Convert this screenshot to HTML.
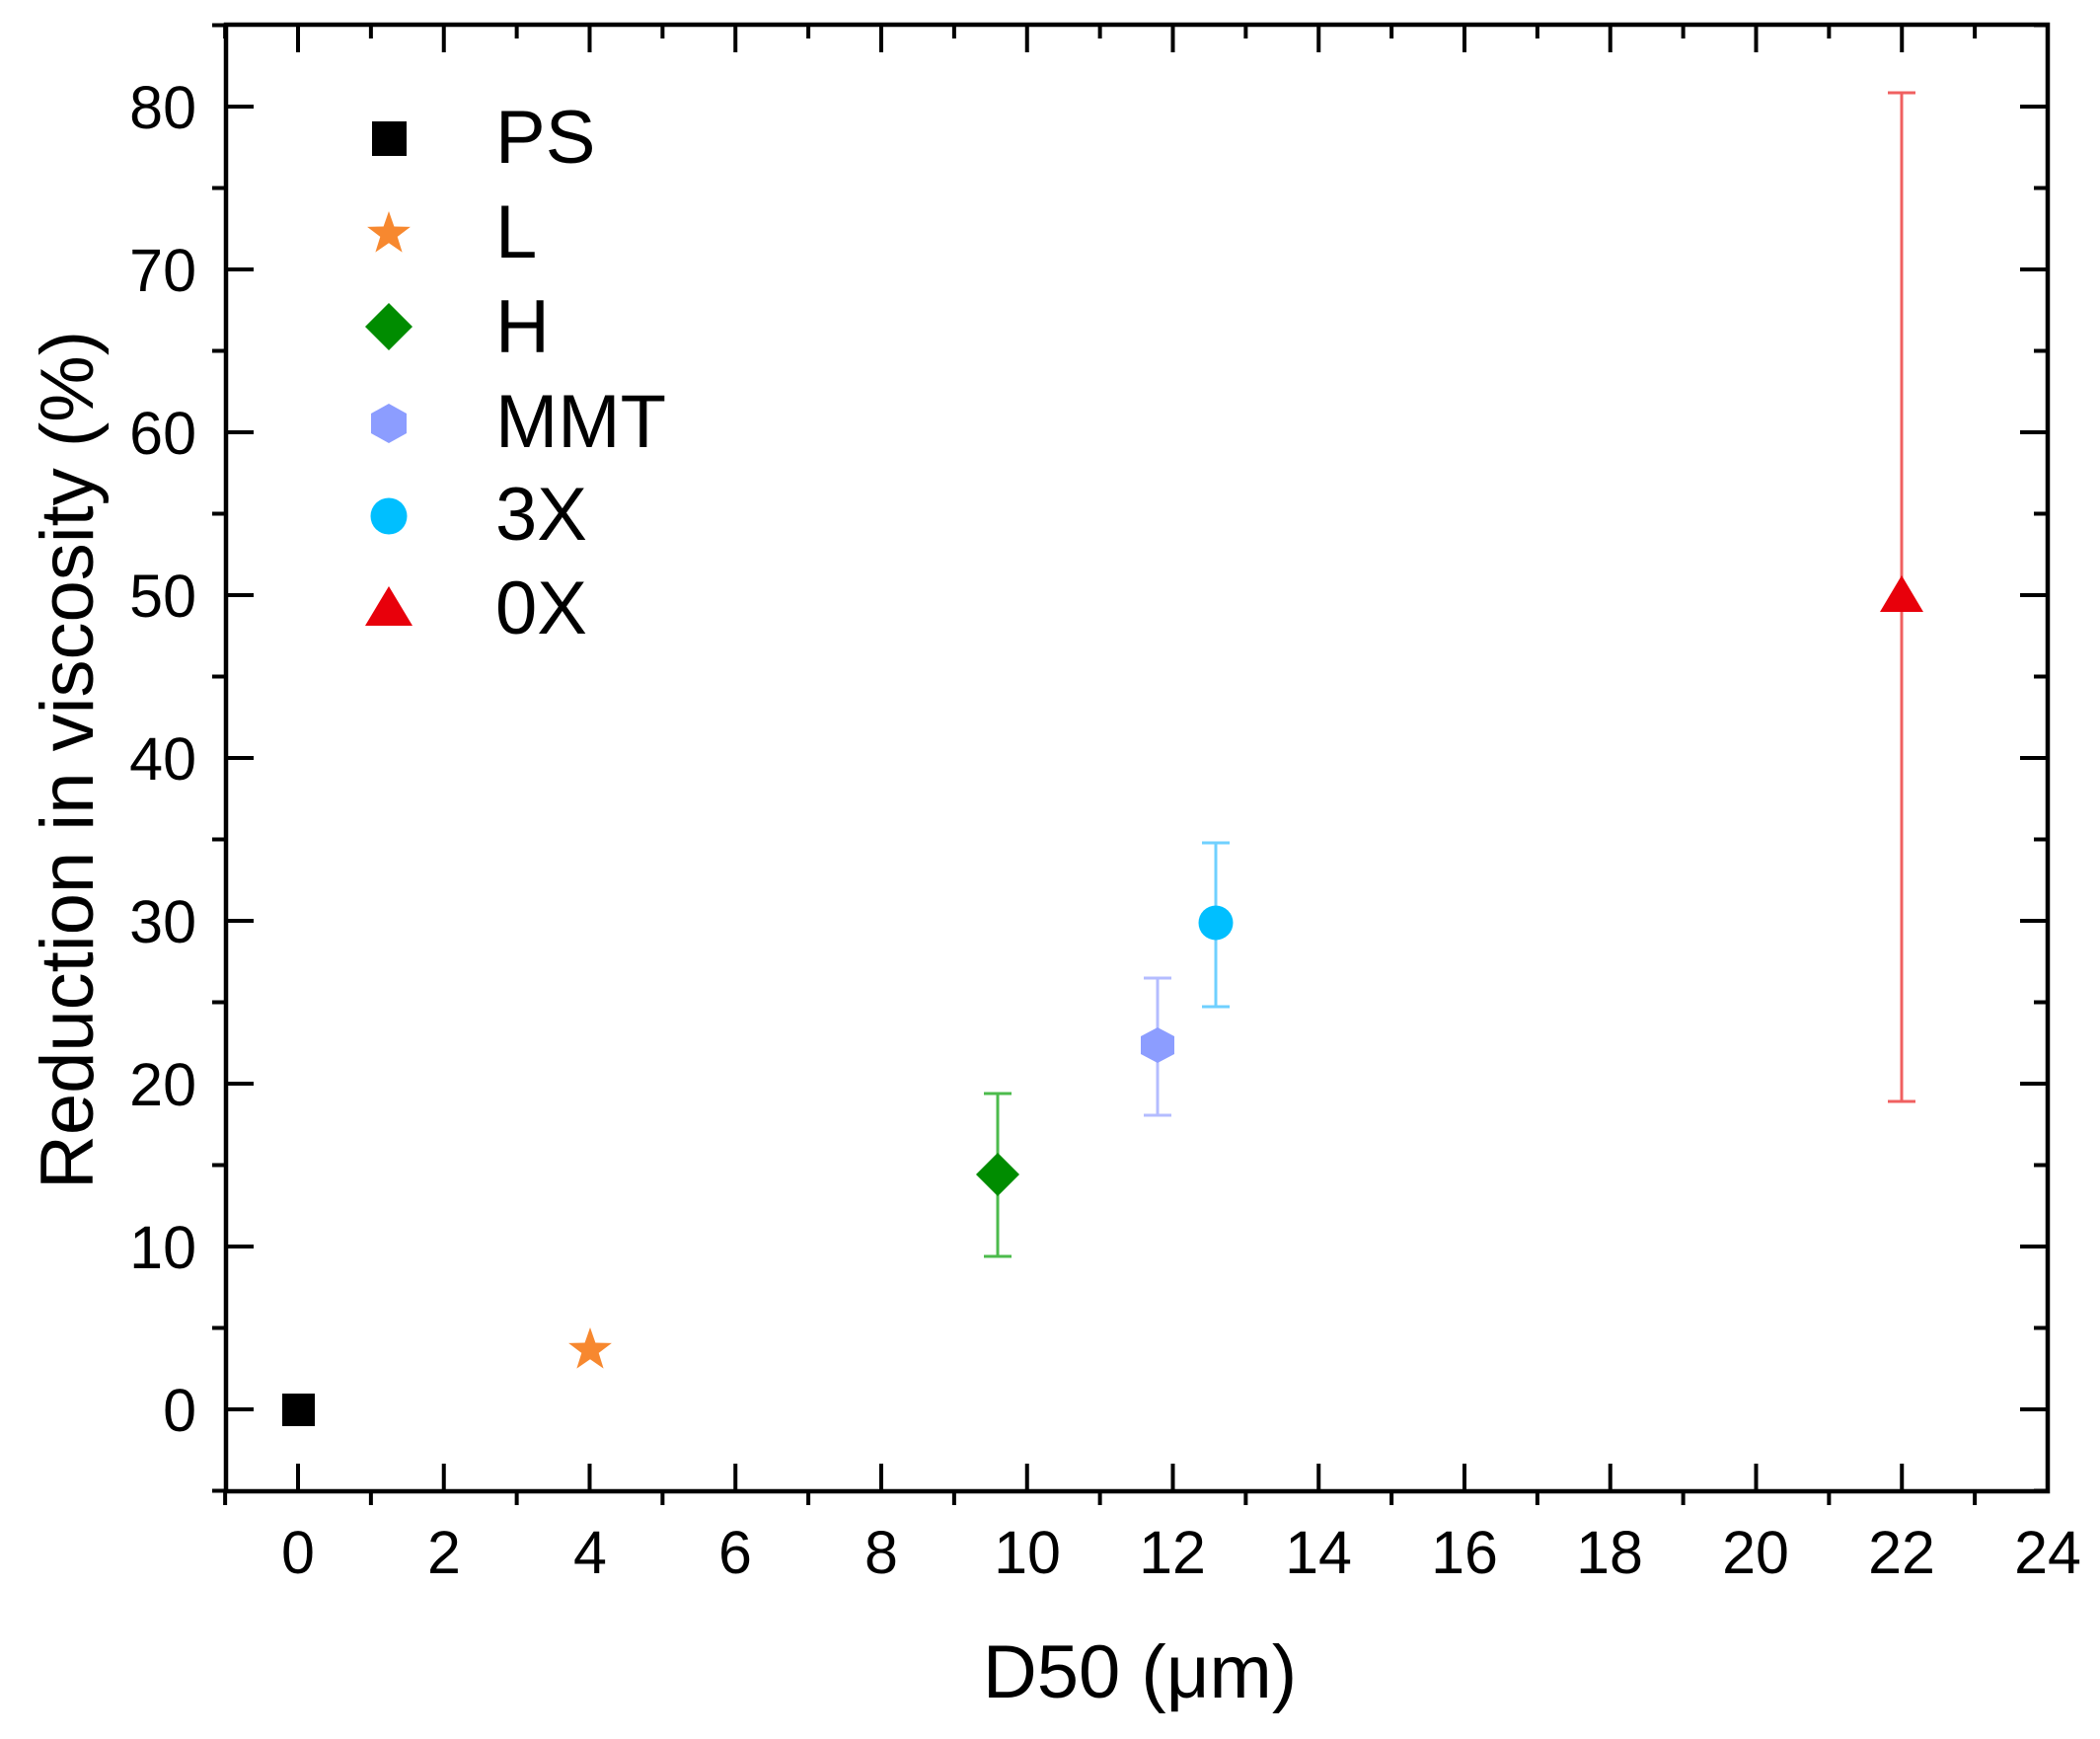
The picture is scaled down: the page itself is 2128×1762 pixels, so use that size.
<!DOCTYPE html>
<html><head><meta charset="utf-8"><style>
html,body{margin:0;padding:0;background:#fff;}
svg{display:block;}
text{font-family:"Liberation Sans",Arial,sans-serif;fill:#000;}
</style></head><body>
<svg width="2128" height="1762" viewBox="0 0 2128 1762" xmlns="http://www.w3.org/2000/svg">
<rect width="2128" height="1762" fill="#fff"/>
<g id="ticks" stroke="#000" stroke-width="4"></g>
<rect x="229" y="25" width="1846" height="1486" fill="none" stroke="#000" stroke-width="4.5"/>
<g font-size="61" text-anchor="end">
<text x="199" y="1450">0</text>
<text x="199" y="1285">10</text>
<text x="199" y="1120">20</text>
<text x="199" y="955">30</text>
<text x="199" y="790">40</text>
<text x="199" y="625">50</text>
<text x="199" y="460">60</text>
<text x="199" y="295">70</text>
<text x="199" y="130">80</text>
</g>
<g font-size="61" text-anchor="middle">
<text x="302" y="1594">0</text>
<text x="450" y="1594">2</text>
<text x="598" y="1594">4</text>
<text x="745" y="1594">6</text>
<text x="893" y="1594">8</text>
<text x="1041" y="1594">10</text>
<text x="1188" y="1594">12</text>
<text x="1336" y="1594">14</text>
<text x="1484" y="1594">16</text>
<text x="1631" y="1594">18</text>
<text x="1779" y="1594">20</text>
<text x="1927" y="1594">22</text>
<text x="2075" y="1594">24</text>
</g>
<text x="1155" y="1720" font-size="76" text-anchor="middle">D50 (μm)</text>
<text transform="translate(94,770) rotate(-90)" font-size="76" text-anchor="middle">Reduction in viscosity (%)</text>
<g font-size="76">
<text x="502" y="165">PS</text>
<text x="502" y="261">L</text>
<text x="502" y="357">H</text>
<text x="502" y="453">MMT</text>
<text x="502" y="547">3X</text>
<text x="502" y="642">0X</text>
</g>
<rect x="377" y="123" width="35" height="35" fill="#000"/>
<path id="star" d="M0,-23 L5.4,-7.5 L21.9,-7.1 L8.7,2.9 L13.6,18.6 L0,9.2 L-13.6,18.6 L-8.7,2.9 L-21.9,-7.1 L-5.4,-7.5 Z" fill="#f7882f" transform="translate(394,237)"/>
<path d="M394,307 L418,331 L394,355 L370,331 Z" fill="#008c00"/>
<path d="M394,409 L412,419 L412,439 L394,449 L376,439 L376,419 Z" fill="#8c9dff"/>
<circle cx="394" cy="523" r="18.5" fill="#00bfff"/>
<path d="M394,594 L418,634 L370,634 Z" fill="#e8000b"/>
<g stroke-width="3" fill="none">
<path d="M1011,1108 V1273 M997,1108 H1025 M997,1273 H1025" stroke="#4cbb4c"/>
<path d="M1173,991 V1130 M1159,991 H1187 M1159,1130 H1187" stroke="#b4bcff"/>
<path d="M1232,854 V1020 M1218,854 H1246 M1218,1020 H1246" stroke="#6fd0ff"/>
<path d="M1927,94 V1116 M1913,94 H1941 M1913,1116 H1941" stroke="#f06060"/>
</g>
<rect x="286" y="1412" width="33" height="33" fill="#000"/>
<use href="#star" transform="translate(204,1131)"/>
<path d="M1011,1168 L1033,1190 L1011,1212 L989,1190 Z" fill="#008c00"/>
<path d="M1173,1041 L1190,1050 L1190,1068 L1173,1077 L1156,1068 L1156,1050 Z" fill="#8c9dff"/>
<circle cx="1232" cy="935" r="17.5" fill="#00bfff"/>
<path d="M1927,583 L1949,620 L1905,620 Z" fill="#e8000b"/>
</svg>
<script>
var g=document.getElementById('ticks'),s='';
function L(a,b,c,d){s+='<line x1="'+a+'" y1="'+b+'" x2="'+c+'" y2="'+d+'"/>';}
for(var v=-1;v<=24;v++){var x=302+v*73.875;
 if(v%2===0){if(v<24){L(x,1511,x,1483);L(x,25,x,53);}}
 else {L(x,1511,x,1525);L(x,25,x,39);}}
for(var y=-5;y<=85;y+=5){var py=1428-y*16.5;
 if(y%10===0){L(229,py,257,py);L(2075,py,2047,py);}
 else {L(229,py,215,py);L(2075,py,2061,py);}}
g.innerHTML=s;
</script>
</body></html>
